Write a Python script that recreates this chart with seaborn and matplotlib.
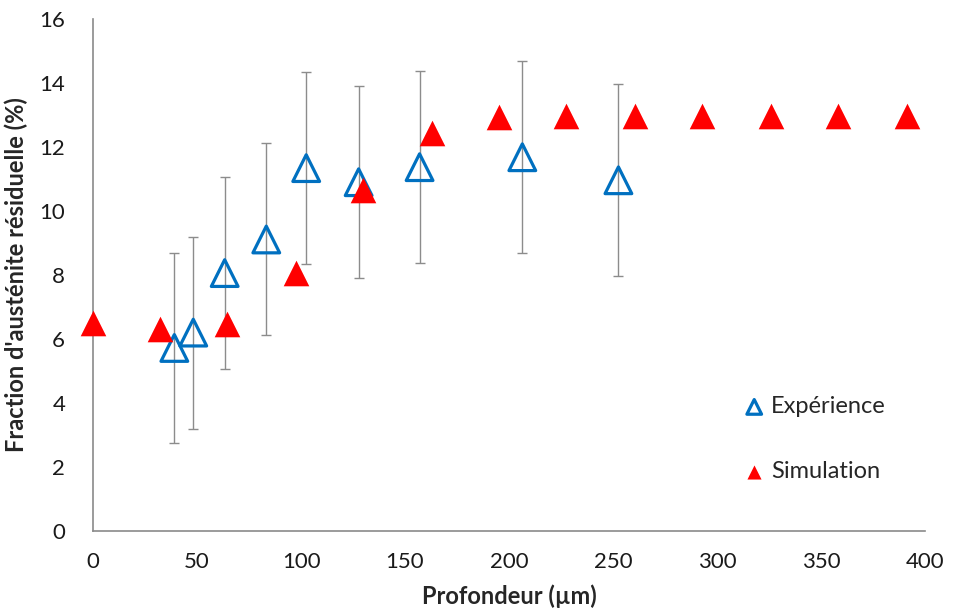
import matplotlib
matplotlib.use('Agg')
import matplotlib.pyplot as plt
import seaborn as sns
import pandas as pd

# Expérience (open blue triangles with error bars)
exp_x = [39.1, 48.2, 63.3, 83.3, 102.5, 127.7, 157.0, 206.4, 252.6]
exp_y = [5.72, 6.20, 8.06, 9.11, 11.34, 10.90, 11.37, 11.68, 10.96]
exp_err = [2.98, 3.0, 3.0, 3.0, 3.0, 3.0, 3.0, 3.0, 3.0]

# Simulation (filled red triangles)
sim_x = [0, 32.2, 64.3, 97.6, 129.6, 162.8, 195.3, 227.4, 260.7, 292.9, 325.9, 358.3, 391.5]
sim_y = [6.50, 6.31, 6.46, 8.07, 10.67, 12.45, 12.93, 12.97, 12.97, 12.97, 12.97, 12.97, 12.97]

x_ticks = [0, 50, 100, 150, 200, 250, 300, 350, 400]
y_ticks = [0, 2, 4, 6, 8, 10, 12, 14, 16]

sns.set_style('white')
plt.rcParams['font.family'] = ['Lato', 'DejaVu Sans']

df_exp = pd.DataFrame({'x': exp_x, 'y': exp_y})
df_sim = pd.DataFrame({'x': sim_x, 'y': sim_y})

fig = plt.figure(figsize=(9.55, 6.15), dpi=100)
ax = fig.add_axes([0.0974, 0.1366, 0.8712, 0.8325])

ax.errorbar(exp_x, exp_y, yerr=exp_err, fmt='none', ecolor='#8c8c8c',
            elinewidth=1, capsize=3.5, capthick=1, zorder=1)
sns.scatterplot(data=df_exp, x='x', y='y', marker='^', s=370, facecolor='none',
                edgecolor='#0070C0', linewidth=2.3, label='Expérience', ax=ax,
                zorder=3, clip_on=False)
sns.scatterplot(data=df_sim, x='x', y='y', marker='^', s=340, color='#FF0000',
                edgecolor='#FF0000', linewidth=0, label='Simulation', ax=ax,
                zorder=4, clip_on=False)

ax.set_xlim(0, 400)
ax.set_ylim(0, 16)
ax.set_xticks(x_ticks)
ax.set_yticks(y_ticks)
ax.tick_params(axis='both', length=0, labelsize=16, colors='#1a1a1a', pad=15)
ax.tick_params(axis='y', pad=20)
for s in ['top', 'right']:
    ax.spines[s].set_visible(False)
for s in ['left', 'bottom']:
    ax.spines[s].set_color('#8a8a8a')
    ax.spines[s].set_linewidth(1.2)

ax.set_xlabel('Profondeur (µm)', fontsize=17, fontweight='bold', labelpad=9)
ax.set_ylabel("Fraction d'austénite résiduelle (%)", fontsize=17, fontweight='bold', labelpad=8)

leg = ax.legend(loc='upper left', bbox_to_anchor=(0.755, 0.305), frameon=False,
                fontsize=17, markerscale=0.55, labelspacing=1.85,
                handletextpad=0.2, handlelength=1.0)

fig.savefig('out.png', dpi=100)
